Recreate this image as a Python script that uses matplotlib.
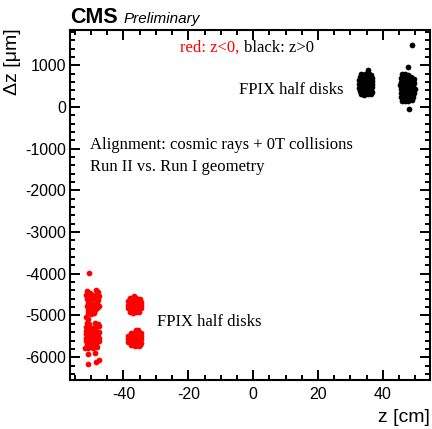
import matplotlib
matplotlib.use("Agg")
import matplotlib.pyplot as plt
from matplotlib.ticker import MultipleLocator

plt.rcParams['axes.unicode_minus'] = False
plt.rcParams['font.family'] = ['Liberation Sans', 'DejaVu Sans']

# z < 0 half disks (red)
z_red_a_up = [-51.3, -50.3, -48.6, -47.9,
              -51.6, -50.6, -49.6, -48.6, -47.6,
              -51.4, -50.4, -49.4, -48.4, -47.8,
              -51.0, -50.0, -49.0, -48.2,
              -51.2, -50.2, -49.2, -48.3, -47.6,
              -50.8, -49.8, -48.8,
              -51.0, -50.0, -49.0,
              -51.6, -50.9]
dz_red_a_up = [-4420, -4450, -4390, -4430,
               -4510, -4530, -4500, -4520, -4540,
               -4600, -4620, -4590, -4610, -4630,
               -4700, -4690, -4720, -4710,
               -4780, -4800, -4790, -4810, -4770,
               -4870, -4880, -4860,
               -4940, -4960, -4950,
               -5040, -5080]
z_red_a_lo = [-51.4, -50.5, -48.9, -48.0,
              -51.7, -50.7, -49.7, -48.7, -47.7,
              -51.5, -50.5, -49.5, -48.5, -47.6,
              -51.7, -50.7, -49.7, -48.7, -47.8,
              -51.5, -50.5, -49.5, -48.5, -47.6,
              -51.6, -50.6, -49.6, -48.6, -47.7,
              -51.4, -50.4, -49.4, -48.4,
              -51.8, -50.8, -49.3, -48.2]
dz_red_a_lo = [-5190, -5210, -5180, -5200,
               -5280, -5270, -5290, -5300, -5260,
               -5360, -5380, -5350, -5370, -5390,
               -5450, -5460, -5440, -5470, -5455,
               -5540, -5530, -5550, -5520, -5545,
               -5620, -5630, -5610, -5640, -5600,
               -5710, -5720, -5700, -5690,
               -5790, -5770, -5780, -5760]
z_red_a_out = [-50.5, -50.95, -48.7, -47.7, -48.5, -50.8]
dz_red_a_out = [-3990, -5930, -5900, -6067, -6108, -6170]

z_red_b_up = [-38.0, -37.0, -36.0, -35.0,
              -38.6, -37.6, -36.6, -35.6, -34.6,
              -38.7, -37.7, -36.7, -35.7, -34.5,
              -38.6, -37.6, -36.6, -35.6, -34.6,
              -38.1, -37.1, -36.1, -35.1,
              -36.9]
dz_red_b_up = [-4590, -4575, -4585, -4600,
               -4660, -4670, -4650, -4665, -4680,
               -4750, -4740, -4760, -4745, -4755,
               -4830, -4840, -4820, -4835, -4825,
               -4910, -4930, -4920, -4905,
               -4525]
z_red_b_lo = [-36.2, -35.4,
              -37.6, -36.6, -35.6, -34.7,
              -38.6, -37.6, -36.6, -35.6, -34.6,
              -38.7, -37.7, -36.7, -35.7, -34.5,
              -38.5, -37.5, -36.5, -35.5, -34.5,
              -37.8, -36.8, -35.8, -34.8,
              -36.5, -35.3]
dz_red_b_lo = [-5350, -5340,
               -5420, -5410, -5400, -5430,
               -5490, -5480, -5500, -5485, -5495,
               -5570, -5560, -5580, -5565, -5575,
               -5640, -5650, -5635, -5645, -5655,
               -5700, -5710, -5705, -5715,
               -5730, -5740]

# z > 0 half disks (black)
z_blk_c = [33.4, 34.5, 35.6, 36.2,
           32.9, 33.9, 34.9, 35.9, 36.7,
           32.8, 33.7, 34.7, 35.8, 36.8,
           32.7, 33.8, 34.8, 35.7, 36.6,
           32.8, 33.9, 34.9, 35.9, 36.7,
           32.9, 33.8, 34.7, 35.8, 36.6,
           33.3, 34.3, 35.3, 36.2,
           35.4]
dz_blk_c = [795, 805, 790, 770,
            720, 705, 730, 715, 700,
            640, 625, 650, 630, 620,
            555, 540, 560, 545, 550,
            470, 480, 455, 465, 475,
            390, 380, 400, 385, 370,
            305, 300, 310, 315,
            887]
z_blk_d = [45.8, 46.8, 47.8,
           45.6, 46.6, 47.6, 48.6, 49.5,
           45.5, 46.5, 47.5, 48.5, 49.6,
           45.4, 46.4, 47.4, 48.4, 49.4,
           45.6, 46.6, 47.6, 48.6, 49.8,
           45.5, 46.5, 47.5, 48.5, 49.5,
           45.6, 46.6, 47.6, 48.6, 49.3,
           45.9, 46.9, 47.9, 48.9,
           47.9, 49.0, 48.2]
dz_blk_d = [790, 800, 770,
            700, 690, 710, 720, 680,
            610, 620, 600, 630, 590,
            520, 510, 530, 515, 500,
            430, 440, 420, 435, 425,
            340, 350, 330, 345, 335,
            250, 260, 240, 255, 245,
            155, 140, 150, 165,
            966, 1487, -48]

z_red = z_red_a_up + z_red_a_lo + z_red_a_out + z_red_b_up + z_red_b_lo
dz_red = dz_red_a_up + dz_red_a_lo + dz_red_a_out + dz_red_b_up + dz_red_b_lo
z_blk = z_blk_c + z_blk_d
dz_blk = dz_blk_c + dz_blk_d

fig = plt.figure(figsize=(4.32, 4.29), dpi=100)
ax = fig.add_axes([0.162, 0.114, 0.833, 0.816])

ax.scatter(z_red, dz_red, s=17, c='#ff0000', linewidths=0)
ax.scatter(z_blk, dz_blk, s=17, c='black', linewidths=0)

ax.set_xlim(-56.5, 54.5)
ax.set_ylim(-6550, 1850)
ax.xaxis.set_major_locator(MultipleLocator(20))
ax.xaxis.set_minor_locator(MultipleLocator(5))
ax.yaxis.set_major_locator(MultipleLocator(1000))
ax.yaxis.set_minor_locator(MultipleLocator(200))
ax.tick_params(which='both', direction='in', top=True, right=True, width=1.4, labelsize=11.5)
ax.tick_params(which='major', length=7)
ax.tick_params(which='minor', length=3.5)
ax.tick_params(axis='x', pad=5)
ax.tick_params(axis='y', pad=3)
for sp in ax.spines.values():
    sp.set_linewidth(1.5)

serif = ['Liberation Serif', 'DejaVu Serif']
ax.text(0.306, 0.949, 'red: z<0,', color='#ff0000', family=serif, fontsize=12,
        transform=ax.transAxes, va='center')
ax.text(0.483, 0.949, 'black: z>0', color='black', family=serif, fontsize=12,
        transform=ax.transAxes, va='center')
ax.text(0.469, 0.829, 'FPIX half disks', family=serif, fontsize=12,
        transform=ax.transAxes, va='center')
ax.text(0.241, 0.167, 'FPIX half disks', family=serif, fontsize=12,
        transform=ax.transAxes, va='center')
ax.text(0.056, 0.671, 'Alignment: cosmic rays + 0T collisions', family=serif, fontsize=12,
        transform=ax.transAxes, va='center')
ax.text(0.056, 0.609, 'Run II vs. Run I geometry', family=serif, fontsize=12,
        transform=ax.transAxes, va='center')

fig.text(0.162, 0.946, 'CMS', fontsize=15.5, fontweight='bold', va='baseline')
fig.text(0.287, 0.946, 'Preliminary', fontsize=11, style='italic', va='baseline')
fig.text(0.028, 0.935, 'Δz [μm]', fontsize=14, rotation=90, ha='center', va='top')
fig.text(0.995, 0.026, 'z [cm]', fontsize=14, ha='right', va='center')

fig.savefig('out.png', dpi=100)
